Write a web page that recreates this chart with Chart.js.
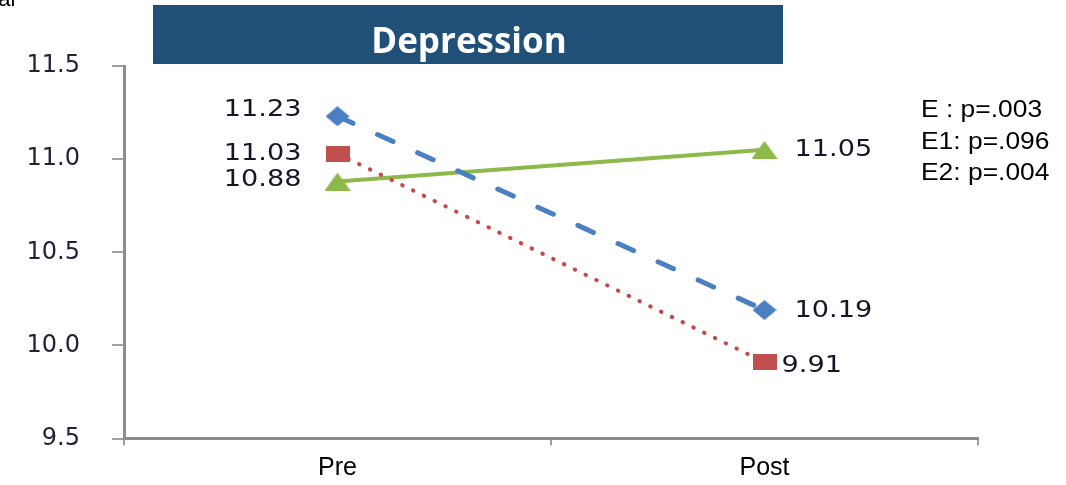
<!DOCTYPE html>
<html>
<head>
<meta charset="utf-8">
<script src="https://cdn.jsdelivr.net/npm/chart.js@4.4.1/dist/chart.umd.min.js"></script>
<style>
  html, body { margin: 0; padding: 0; background: #ffffff; }
  #chart { display: block; }
</style>
</head>
<body>
<canvas id="chart" width="1066" height="485"></canvas>
<script>
// Measurement occasions
const categories = ['Pre', 'Post'];

// Mean depression scores per group
const groupE  = [11.23, 10.19];
const groupE1 = [11.03, 9.91];
const groupE2 = [10.88, 11.05];

// Value axis
const yTicks = [9.5, 10.0, 10.5, 11.0, 11.5];

// Significance notes
const pNotes = ['E : p=.003', 'E1: p=.096', 'E2: p=.004'];

const chartTitle = 'Depression';

// Marker images
function markerCanvas(w, h, draw) {
  const c = document.createElement('canvas');
  c.width = w; c.height = h;
  draw(c.getContext('2d'), w, h);
  return c;
}
const diamond = markerCanvas(24, 20, (g, w, h) => {
  g.fillStyle = '#4A7FC1';
  g.beginPath();
  g.moveTo(w / 2, 0); g.lineTo(w, h / 2); g.lineTo(w / 2, h); g.lineTo(0, h / 2);
  g.closePath(); g.fill();
});
const square = markerCanvas(24, 16, (g, w, h) => {
  g.fillStyle = '#C0504D';
  g.fillRect(0, 0, w, h);
});
const triangle = markerCanvas(26, 18, (g, w, h) => {
  g.fillStyle = '#8DB84A';
  g.beginPath();
  g.moveTo(w / 2, 0); g.lineTo(w, h); g.lineTo(0, h);
  g.closePath(); g.fill();
});

// Value labels beside each point, plus the title band and notes
const annotations = {
  id: 'annotations',
  afterDatasetsDraw(chart, args, opts) {
    const ctx = chart.ctx;
    ctx.save();
    ctx.fillStyle = '#15152a';
    ctx.font = '23px "DejaVu Sans"';
    ctx.textBaseline = 'middle';
    chart.data.datasets.forEach((ds, di) => {
      const meta = chart.getDatasetMeta(di);
      const place = opts.placement[di];
      meta.data.forEach((pt, i) => {
        const p = place[i];
        const txt = ds.data[i].toFixed(2);
        ctx.save();
        ctx.translate(pt.x + p.dx, pt.y + p.dy);
        ctx.scale(1.18, 1);
        ctx.textAlign = p.dx < 0 ? 'right' : 'left';
        ctx.fillText(txt, 0, 0);
        ctx.restore();
      });
    });

    // Title band
    ctx.fillStyle = '#204F78';
    ctx.fillRect(153, 5, 630, 59);
    ctx.fillStyle = '#ffffff';
    ctx.font = 'bold 35px "Open Sans"';
    ctx.textAlign = 'center';
    ctx.textBaseline = 'alphabetic';
    ctx.fillText(chartTitle, 469, 53);

    // Significance notes
    ctx.fillStyle = '#000000';
    ctx.font = '24px "Liberation Sans"';
    ctx.textAlign = 'left';
    pNotes.forEach((t, i) => {
      ctx.save();
      ctx.translate(921, 117 + i * 31.5);
      ctx.scale(1.1, 1);
      ctx.fillText(t, 0, 0);
      ctx.restore();
    });

    // Clipped caption fragment at the top edge
    ctx.font = '22px "Liberation Sans"';
    ctx.fillText('ual', -14, 6);
    ctx.restore();
  }
};

new Chart(document.getElementById('chart'), {
  type: 'line',
  data: {
    labels: categories,
    datasets: [
      {
        label: 'E',
        data: groupE,
        borderColor: '#4A7FC1',
        borderWidth: 5,
        borderDash: [17, 27],
        borderCapStyle: 'round',
        pointStyle: diamond,
        tension: 0
      },
      {
        label: 'E1',
        data: groupE1,
        borderColor: '#C44A47',
        borderWidth: 4,
        borderDash: [0.5, 11.5],
        borderCapStyle: 'round',
        pointStyle: square,
        tension: 0
      },
      {
        label: 'E2',
        data: groupE2,
        borderColor: '#8DB84A',
        borderWidth: 4,
        pointStyle: triangle,
        tension: 0
      }
    ]
  },
  options: {
    responsive: false,
    animation: false,
    layout: { padding: { top: 66, right: 88, left: 0, bottom: 0 } },
    plugins: {
      legend: { display: false },
      tooltip: { enabled: false },
      annotations: {
        placement: [
          [{ dx: -36, dy: -6 }, { dx: 30, dy: 1 }],
          [{ dx: -36, dy: 0 }, { dx: 17, dy: 4 }],
          [{ dx: -36, dy: -1 }, { dx: 30, dy: 0 }]
        ]
      }
    },
    scales: {
      x: {
        type: 'category',
        offset: true,
        afterFit(scale) { scale.height = 46; },
        border: { display: true, color: '#8c8c8c', width: 3 },
        grid: {
          display: true,
          drawOnChartArea: false,
          drawTicks: true,
          tickLength: 7,
          color: '#a0a0a0',
          lineWidth: 2,
          offset: true
        },
        ticks: {
          color: '#000000',
          font: { family: '"Liberation Sans"', size: 25 },
          padding: 8,
          maxRotation: 0
        }
      },
      y: {
        type: 'linear',
        min: yTicks[0],
        max: yTicks[yTicks.length - 1],
        afterFit(scale) { scale.width = 124; },
        afterBuildTicks(scale) { scale.ticks = yTicks.map(v => ({ value: v })); },
        border: { display: true, color: '#8c8c8c', width: 3 },
        grid: {
          display: true,
          drawOnChartArea: false,
          drawTicks: true,
          tickLength: 12,
          color: '#a0a0a0',
          lineWidth: 2
        },
        ticks: {
          color: '#22223a',
          font: { family: '"DejaVu Sans"', size: 24 },
          padding: 32,
          callback: v => Number(v).toFixed(1)
        }
      }
    }
  },
  plugins: [annotations]
});
</script>
</body>
</html>
